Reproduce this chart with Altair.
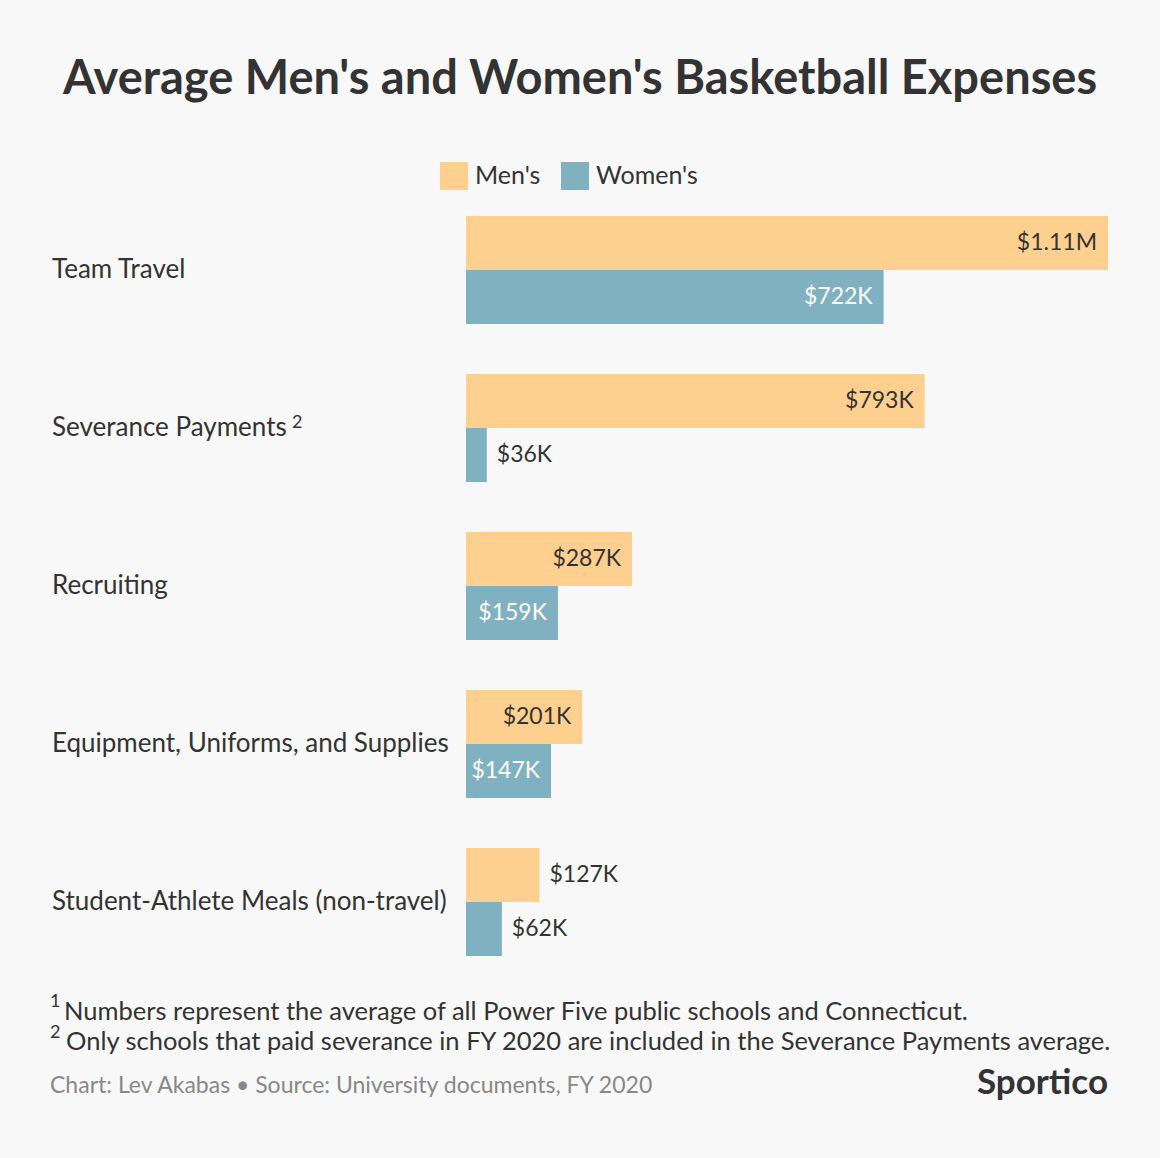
import altair as alt
import pandas as pd

categories = ["Team Travel", "Severance Payments", "Recruiting",
              "Equipment, Uniforms, and Supplies", "Student-Athlete Meals (non-travel)"]
mens = [1110, 793, 287, 201, 127]
womens = [722, 36, 159, 147, 62]
series = ["Men's", "Women's"]
colors = ["#fdd08f", "#80b1c1"]

title_text = "Average Men's and Women's Basketball Expenses"
footnote1 = "Numbers represent the average of all Power Five public schools and Connecticut."
footnote2 = "Only schools that paid severance in FY 2020 are included in the Severance Payments average."
source_text = "Chart: Lev Akabas \u2022 Source: University documents, FY 2020"
brand = "Sportico"

FONT = "Lato"
TXT = "#333333"

rows = []
for c, m, w in zip(categories, mens, womens):
    for s, v in ((series[0], m), (series[1], w)):
        lab = f"${v/1000:.2f}M" if v >= 1000 else f"${v}K"
        rows.append({"category": c, "series": s, "value": v, "label": lab,
                     "inside": v >= 140})
df = pd.DataFrame(rows)

W, H = 642, 740
y_enc = alt.Y("category:N", sort=categories,
              scale=alt.Scale(paddingInner=50/158, paddingOuter=0), axis=None)
yoff = alt.YOffset("series:N", sort=series, scale=alt.Scale(paddingInner=0))
x_enc = alt.X("value:Q", scale=alt.Scale(domain=[0, 1110], nice=False, zero=True), axis=None)

base = alt.Chart(df)

bars = base.mark_bar(cornerRadius=0).encode(
    x=x_enc, y=y_enc, yOffset=yoff,
    color=alt.Color("series:N", sort=series,
                    scale=alt.Scale(domain=series, range=colors),
                    legend=alt.Legend(orient="none", legendX=-26, legendY=-54,
                                      direction="horizontal", title=None,
                                      symbolType="square", symbolSize=784,
                                      symbolStrokeWidth=0, symbolOpacity=1,
                                      labelFontSize=25, labelFont=FONT,
                                      labelColor=TXT, labelOffset=7,
                                      columnPadding=20)),
)

inside_lab = base.transform_filter("datum.inside").mark_text(
    align="right", baseline="middle", dx=-11, font=FONT, fontSize=23
).encode(
    x=x_enc, y=y_enc, yOffset=yoff, text="label:N",
    color=alt.Color("series:N", scale=alt.Scale(domain=series, range=[TXT, "#ffffff"]), legend=None),
)

outside_lab = base.transform_filter("!datum.inside").mark_text(
    align="left", baseline="middle", dx=10, font=FONT, fontSize=23, color=TXT
).encode(x=x_enc, y=y_enc, yOffset=yoff, text="label:N")

cat_df = pd.DataFrame({"category": categories})
cat_labels = alt.Chart(cat_df).mark_text(
    align="left", baseline="middle", font=FONT, fontSize=26, color=TXT
).encode(x=alt.value(-414), y=y_enc, text="category:N")

sup_df = pd.DataFrame({"category": ["Severance Payments"], "t": ["2"]})
sup = alt.Chart(sup_df).mark_text(
    align="left", baseline="middle", font=FONT, fontSize=18, color=TXT, dy=-5
).encode(x=alt.value(-174), y=y_enc, text="t:N")

def txt(t, x, y, size, color=TXT, weight="normal", align="left"):
    return alt.Chart(pd.DataFrame({"t": [t]})).mark_text(
        align=align, baseline="middle", font=FONT, fontSize=size,
        color=color, fontWeight=weight
    ).encode(text="t:N", x=alt.value(x), y=alt.value(y))

title = txt(title_text, 580 - 466, 80 - 216, 47, weight="bold", align="center")
fn1_sup = txt("1", 50 - 466, 1002 - 216, 18)
fn1 = txt(footnote1, 64 - 466, 1012 - 216, 25.5)
fn2_sup = txt("2", 50 - 466, 1033 - 216, 18)
fn2 = txt(footnote2, 66 - 466, 1042 - 216, 25.5)
src = txt(source_text, 50 - 466, 1086 - 216, 23, color="#888888")
logo = txt(brand, 1108 - 466, 1083 - 216, 35, weight="bold", align="right")

chart = alt.layer(
    bars, inside_lab, outside_lab, cat_labels, sup,
    title, fn1_sup, fn1, fn2_sup, fn2, src, logo
).resolve_scale(color="independent").properties(
    width=W, height=H,
    autosize=alt.AutoSizeParams(type="none"),
    padding={"left": 466, "top": 216, "right": 52, "bottom": 202},
    background="#f8f8f8",
).configure_view(stroke=None)

chart.save("out.html", embed_options={"renderer": "svg", "actions": False})
